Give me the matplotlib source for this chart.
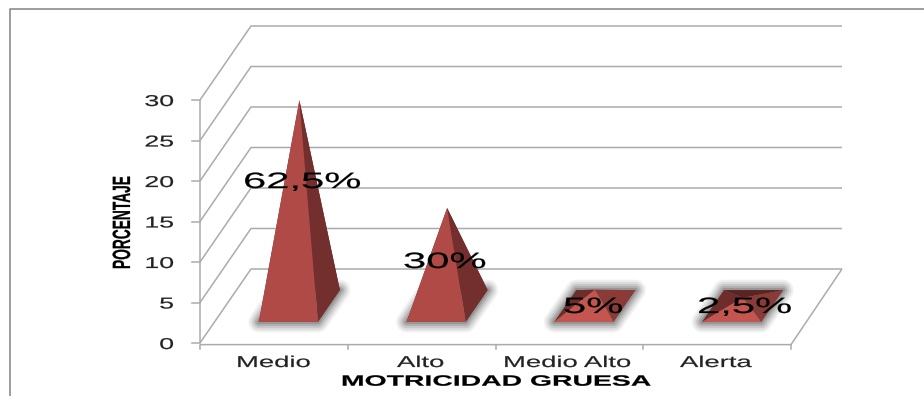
import matplotlib
matplotlib.use('Agg')
import matplotlib.pyplot as plt
from matplotlib.patches import Polygon
from matplotlib.patheffects import AbstractPathEffect
from matplotlib.transforms import Affine2D

categorias = ['Medio', 'Alto', 'Medio Alto', 'Alerta']
valores = [25.4, 12.1, 2, 1]
etiquetas = ['62,5%', '30%', '5%', '2,5%']
y_ticks = [0, 5, 10, 15, 20, 25, 30]

W, H = 924.0, 396.0
plt.rcParams['font.family'] = ['Liberation Sans', 'DejaVu Sans']
fig = plt.figure(figsize=(W/100, H/100), dpi=100)


class Estirar(AbstractPathEffect):
    # la imagen original tiene el texto estirado a lo ancho
    def __init__(self, sx, grueso=0.15):
        super().__init__()
        self.sx = sx
        self.grueso = grueso

    def draw_path(self, renderer, gc, tpath, affine, rgbFace=None):
        gc.set_linewidth(self.grueso)
        gc.set_foreground(rgbFace[:3])
        renderer.draw_path(gc, tpath, Affine2D().scale(self.sx, 1) + affine, rgbFace)


# marco de la imagen (solo arriba e izquierda)
frame = fig.add_axes([0, 0, 1, 1])
frame.set_xlim(0, W)
frame.set_ylim(H, 0)
frame.axis('off')
frame.set_zorder(5)
frame.plot([9.5, 9.5, W], [H, 8.5, 8.5], color='#8c8c8c', lw=1.2)


def texto(x, y, s, size, sx, **kw):
    t = frame.text(x, y, s, ha='left', va='baseline', fontsize=size, rotation_mode='anchor', **kw)
    t.set_path_effects([Estirar(sx)])
    return t


# plano frontal del grafico: x=categorias, y=valor
ax = fig.add_axes([200/W, 1-343/H, 591/W, 243/H])
ax.set_xlim(0, 4)
ax.set_ylim(0, 30)
ax.axis('off')

# profundidad 3D en unidades de datos
DX = 4*51.0/591
DY = 30*74.0/243
gris = '#ababab'


def p(x, y, d):
    # d=0 delante, d=1 fondo
    return (x + DX*d, y + DY*d)


def linea(puntos, **kw):
    ax.plot([q[0] for q in puntos], [q[1] for q in puntos], color=gris, lw=1.1,
            clip_on=False, solid_capstyle='butt', **kw)


for t in y_ticks:
    linea([p(0, t, 0), p(0, t, 1), p(4, t, 1)])
    ax.plot([-8*4/591, 0], [t, t], color=gris, lw=1.1, clip_on=False)
    s = str(t)
    texto(174 - 14.8*len(s), 349 - t*243/30, s, 11.3, 1.7, color='#222222')

linea([p(0, 0, 0), p(0, 30, 0)])
linea([p(0, -0.2, 0), p(4, -0.2, 0), p(4, 0, 1)])
for i in range(5):
    ax.plot([i, i], [-0.2, -0.75], color=gris, lw=1.1, clip_on=False)

# piramides
ANCHO = 0.2
D0, D1 = 0.285, 0.715
cara_alta = {'back': '#5c2725', 'left': '#6b2d2b', 'right': '#732f2d', 'front': '#b04a46'}
cara_baja = {'back': '#5a2422', 'left': '#6e2c2a', 'right': '#8a3b38', 'front': '#c4564f'}

for i, v in enumerate(valores):
    c = i + 0.5
    fl = p(c - ANCHO, 0, D0)
    fr = p(c + ANCHO, 0, D0)
    br = p(c + ANCHO, 0, D1)
    bl = p(c - ANCHO, 0, D1)
    top = p(c, v, 0.5)
    caras = cara_alta if v > 5 else cara_baja

    # sombra difusa de la base
    for lw, a in zip([15, 12, 9, 6, 3], [0.07, 0.09, 0.12, 0.16, 0.2]):
        ax.add_patch(Polygon([fl, fr, br, bl], closed=True, facecolor='#333333', edgecolor='#333333',
                             lw=lw, alpha=a, joinstyle='round', clip_on=False, zorder=3))
    ax.add_patch(Polygon([bl, br, top], closed=True, color=caras['back'], lw=0, clip_on=False, zorder=4))
    ax.add_patch(Polygon([fl, bl, top], closed=True, color=caras['left'], lw=0, clip_on=False, zorder=4))
    ax.add_patch(Polygon([fr, br, top], closed=True, color=caras['right'], lw=0, clip_on=False, zorder=4))
    ax.add_patch(Polygon([fl, fr, top], closed=True, color=caras['front'], lw=0, clip_on=False, zorder=4))

# etiquetas de datos (posicion en pixeles de la imagen)
lab_x = [243, 403, 563, 697]
lab_y = [188, 268, 313, 313]
for s, x, y in zip(etiquetas, lab_x, lab_y):
    texto(x, y, s, 16, 1.88, color='black')

for s, x in zip(categorias, [236, 397, 503, 680]):
    texto(x, 367, s, 11.3, 1.75, color='#222222')

texto(341, 385.7, 'MOTRICIDAD GRUESA', 10.8, 1.89, fontweight='bold', color='black')
texto(130, 269, 'PORCENTAJE', 18, 0.55, fontweight='bold', rotation=90, color='black')

fig.savefig('out.png', dpi=100)
